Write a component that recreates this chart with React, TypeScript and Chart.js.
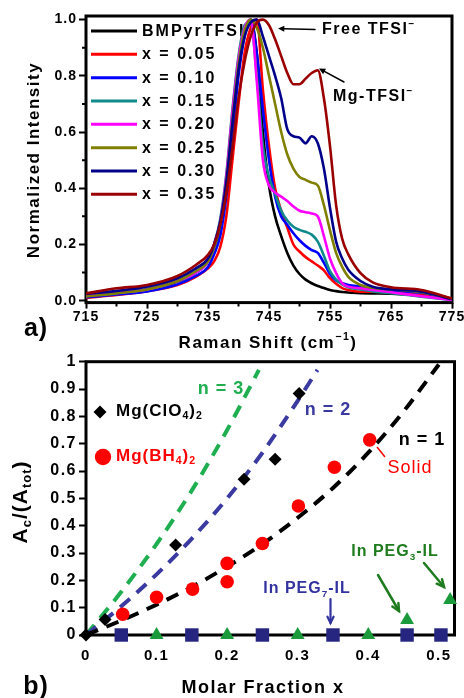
import React, { useEffect, useRef } from 'react';
import { Chart, registerables } from 'chart.js';

Chart.register(...registerables);

const W = 464;
const H = 698;
const FAMILY = "'Liberation Sans', Arial, sans-serif";

// ---------- (a) Raman spectra ----------
const ramanShift = [715, 720, 725, 730, 733, 735, 736, 737, 738, 739, 740, 741, 742, 743, 744, 745, 746, 747, 748, 749, 750, 751, 752, 753, 754, 755, 756, 757, 758, 760, 762, 765, 770, 775];
const intBMPyr = [0.02, 0.028, 0.04, 0.068, 0.1, 0.14, 0.19, 0.26, 0.4, 0.62, 0.82, 0.95, 1.0, 0.88, 0.6, 0.41, 0.3, 0.23, 0.17, 0.125, 0.095, 0.075, 0.062, 0.052, 0.045, 0.038, 0.034, 0.031, 0.029, 0.027, 0.026, 0.025, 0.018, 0.006];
const intX005 = [0.01, 0.02, 0.034, 0.056, 0.085, 0.115, 0.14, 0.19, 0.3, 0.5, 0.7, 0.88, 0.97, 1.0, 0.75, 0.55, 0.4, 0.32, 0.26, 0.2, 0.175, 0.155, 0.14, 0.125, 0.108, 0.08, 0.06, 0.045, 0.038, 0.032, 0.032, 0.03, 0.02, 0.005];
const intX010 = [0.012, 0.022, 0.033, 0.058, 0.088, 0.12, 0.165, 0.23, 0.37, 0.58, 0.8, 0.94, 1.0, 0.88, 0.68, 0.5, 0.37, 0.3, 0.27, 0.24, 0.215, 0.195, 0.18, 0.17, 0.135, 0.095, 0.072, 0.062, 0.056, 0.05, 0.044, 0.036, 0.028, 0.005];
const intX015 = [0.018, 0.028, 0.04, 0.07, 0.1, 0.14, 0.2, 0.29, 0.45, 0.68, 0.87, 0.98, 0.99, 0.8, 0.55, 0.44, 0.38, 0.32, 0.285, 0.263, 0.252, 0.245, 0.235, 0.21, 0.16, 0.105, 0.075, 0.058, 0.048, 0.04, 0.033, 0.027, 0.014, 0.003];
const intX020 = [0.018, 0.028, 0.04, 0.07, 0.1, 0.14, 0.2, 0.28, 0.44, 0.67, 0.86, 0.97, 1.0, 0.78, 0.5, 0.41, 0.385, 0.37, 0.355, 0.335, 0.32, 0.315, 0.31, 0.3, 0.23, 0.15, 0.098, 0.062, 0.05, 0.044, 0.038, 0.03, 0.016, 0.003];
const intX025 = [0.015, 0.026, 0.04, 0.07, 0.105, 0.14, 0.19, 0.27, 0.42, 0.64, 0.84, 0.96, 1.0, 0.97, 0.9, 0.8, 0.7, 0.6, 0.52, 0.47, 0.44, 0.43, 0.42, 0.41, 0.34, 0.25, 0.17, 0.12, 0.085, 0.056, 0.046, 0.04, 0.03, 0.006];
const intX030 = [0.024, 0.035, 0.05, 0.08, 0.115, 0.15, 0.2, 0.28, 0.42, 0.63, 0.82, 0.94, 0.99, 1.0, 0.94, 0.87, 0.8, 0.72, 0.61, 0.585, 0.58, 0.56, 0.585, 0.56, 0.47, 0.33, 0.21, 0.15, 0.11, 0.07, 0.05, 0.04, 0.032, 0.005];
const intX035 = [0.026, 0.044, 0.056, 0.088, 0.127, 0.163, 0.2, 0.27, 0.38, 0.54, 0.72, 0.85, 0.94, 0.99, 1.0, 0.98, 0.93, 0.87, 0.81, 0.77, 0.77, 0.79, 0.81, 0.82, 0.72, 0.55, 0.34, 0.22, 0.165, 0.098, 0.065, 0.048, 0.038, 0.008];
const seriesNames = ['BMPyrTFSI', 'x = 0.05', 'x = 0.10', 'x = 0.15', 'x = 0.20', 'x = 0.25', 'x = 0.30', 'x = 0.35'];
const seriesColors = ['#000000', '#ff0000', '#0000ff', '#108a8a', '#ff00ff', '#808000', '#00008a', '#9a0000'];
const ramanTicks = [715, 725, 735, 745, 755, 765, 775];
const ramanMinorTicks = [720, 730, 740, 750, 760, 770];
const intensityTicks = [0, 0.2, 0.4, 0.6, 0.8, 1.0];
const intensityMinorTicks = [0.1, 0.3, 0.5, 0.7, 0.9];

// ---------- (b) area ratio vs molar fraction ----------
const clo4X = [0, 0.027, 0.127, 0.224, 0.268, 0.302];
const clo4Y = [0, 0.057, 0.329, 0.57, 0.643, 0.884];
const bh4X = [0.052, 0.1, 0.151, 0.2, 0.2, 0.25, 0.301, 0.352, 0.402];
const bh4Y = [0.076, 0.138, 0.168, 0.262, 0.195, 0.335, 0.472, 0.614, 0.714];
const peg7X = [0.05, 0.15, 0.25, 0.35, 0.455, 0.503];
const peg7Y = [0, 0, 0, 0, 0, 0];
const peg3X = [0.1, 0.2, 0.3, 0.4, 0.455, 0.516];
const peg3Y = [0, 0, 0, 0, 0.055, 0.128];
const n1X = [0, 0.05, 0.1, 0.15, 0.2, 0.25, 0.3, 0.35, 0.4, 0.45, 0.5];
const n1Y = [0, 0.053, 0.111, 0.176, 0.25, 0.333, 0.429, 0.538, 0.667, 0.818, 0.99];
const n2X = [0, 0.05, 0.1, 0.15, 0.2, 0.25, 0.3, 0.328];
const n2Y = [0, 0.105, 0.222, 0.353, 0.5, 0.667, 0.857, 0.97];
const n3X = [0, 0.05, 0.1, 0.15, 0.2, 0.245];
const n3Y = [0, 0.158, 0.333, 0.529, 0.75, 0.97];
const fracTicks = [0, 0.1, 0.2, 0.3, 0.4, 0.5];
const fracLabels = ['0', '0.1', '0.2', '0.3', '0.4', '0.5'];
const ratioTicks = [0, 0.1, 0.2, 0.3, 0.4, 0.5, 0.6, 0.7, 0.8, 0.9, 1];
const ratioLabels = ['0', '0.1', '0.2', '0.3', '0.4', '0.5', '0.6', '0.7', '0.8', '0.9', '1'];

type Part = { t: string; sub?: boolean; sup?: boolean };
type TextOpts = { size: number; weight?: string; color: string; align?: 'left' | 'center' | 'right'; ls?: number };

function drawRich(ctx: CanvasRenderingContext2D, parts: Part[], x: number, y: number, o: TextOpts) {
  ctx.save();
  const weight = o.weight ?? 'bold';
  (ctx as any).letterSpacing = (o.ls ?? 0) + 'px';
  ctx.fillStyle = o.color;
  ctx.textBaseline = 'middle';
  ctx.textAlign = 'left';
  let total = 0;
  const items = parts.map((p) => {
    const s = p.sub || p.sup ? o.size * 0.62 : o.size;
    ctx.font = `${weight} ${s}px ${FAMILY}`;
    const w = ctx.measureText(p.t).width;
    total += w;
    return { p, s, w };
  });
  let cx = o.align === 'center' ? x - total / 2 : o.align === 'right' ? x - total : x;
  for (const it of items) {
    ctx.font = `${weight} ${it.s}px ${FAMILY}`;
    const dy = it.p.sub ? o.size * 0.32 : it.p.sup ? -o.size * 0.36 : 0;
    ctx.fillText(it.p.t, cx, y + dy);
    cx += it.w;
  }
  ctx.restore();
}

function drawRotated(ctx: CanvasRenderingContext2D, parts: Part[], x: number, y: number, o: TextOpts) {
  ctx.save();
  ctx.translate(x, y);
  ctx.rotate(-Math.PI / 2);
  drawRich(ctx, parts, 0, 0, { ...o, align: 'center' });
  ctx.restore();
}

function arrow(ctx: CanvasRenderingContext2D, x1: number, y1: number, x2: number, y2: number, color: string, lw: number, head: number, filled: boolean) {
  ctx.save();
  ctx.strokeStyle = color;
  ctx.fillStyle = color;
  ctx.lineWidth = lw;
  ctx.lineCap = 'round';
  const a = Math.atan2(y2 - y1, x2 - x1);
  ctx.beginPath();
  ctx.moveTo(x1, y1);
  ctx.lineTo(filled ? x2 - Math.cos(a) * head * 0.8 : x2, filled ? y2 - Math.sin(a) * head * 0.8 : y2);
  ctx.stroke();
  const ax = x2 - Math.cos(a - 0.45) * head;
  const ay = y2 - Math.sin(a - 0.45) * head;
  const bx = x2 - Math.cos(a + 0.45) * head;
  const by = y2 - Math.sin(a + 0.45) * head;
  ctx.beginPath();
  if (filled) {
    ctx.moveTo(x2, y2);
    ctx.lineTo(ax, ay);
    ctx.lineTo(bx, by);
    ctx.closePath();
    ctx.fill();
  } else {
    ctx.moveTo(ax, ay);
    ctx.lineTo(x2, y2);
    ctx.lineTo(bx, by);
    ctx.stroke();
  }
  ctx.restore();
}

const framePlugin = {
  id: 'frame',
  beforeDraw(chart: any) {
    (chart.ctx as any).letterSpacing = chart.config.options.tickLetterSpacing ?? '1px';
  },
  beforeDatasetsDraw(chart: any) {
    const { ctx, chartArea: c } = chart;
    ctx.save();
    ctx.strokeStyle = '#000';
    ctx.lineWidth = 3;
    ctx.strokeRect(c.left, c.top, c.right - c.left, c.bottom - c.top);
    // minor ticks (shorter), positioned through the scales
    const minor = chart.config.options.minorTicks;
    if (minor) {
      ctx.lineWidth = 2;
      ctx.beginPath();
      for (const v of minor.x) {
        const px = chart.scales.x.getPixelForValue(v);
        ctx.moveTo(px, c.bottom);
        ctx.lineTo(px, c.bottom + 4);
      }
      for (const v of minor.y) {
        const py = chart.scales.y.getPixelForValue(v);
        ctx.moveTo(c.left, py);
        ctx.lineTo(c.left - 4, py);
      }
      ctx.stroke();
    }
    ctx.restore();
  },
};

const legendAPlugin = {
  id: 'legendA',
  beforeDatasetsDraw(chart: any) {
    const ctx: CanvasRenderingContext2D = chart.ctx;
    seriesNames.forEach((name, i) => {
      const y = 31 + 23.33 * i;
      ctx.save();
      ctx.strokeStyle = seriesColors[i];
      ctx.lineWidth = 3;
      ctx.beginPath();
      ctx.moveTo(91, y);
      ctx.lineTo(137, y);
      ctx.stroke();
      ctx.restore();
      drawRich(ctx, [{ t: name }], 142, y + 0.5, { size: 16, color: '#000', ls: 2 });
    });
  },
};

const annotAPlugin = {
  id: 'annotA',
  afterDraw(chart: any) {
    const ctx: CanvasRenderingContext2D = chart.ctx;
    drawRich(ctx, [{ t: 'Free TFSI' }, { t: '−', sup: true }], 322, 30, { size: 16, color: '#000', ls: 1.5 });
    arrow(ctx, 315, 29.5, 278, 28.5, '#000', 1.5, 7, true);
    drawRich(ctx, [{ t: 'Mg-TFSI' }, { t: '−', sup: true }], 333, 97, { size: 16, color: '#000', ls: 1.5 });
    arrow(ctx, 344, 82, 319, 68.5, '#000', 1.5, 7, true);
    drawRotated(ctx, [{ t: 'Normalized Intensity' }], 34, 160, { size: 17, color: '#000', ls: 1.5 });
    drawRich(ctx, [{ t: 'Raman Shift (cm' }, { t: '−1', sup: true }, { t: ')' }], 268, 343, { size: 17, color: '#000', align: 'center', ls: 1.5 });
    drawRich(ctx, [{ t: 'a)' }], 36, 329, { size: 25, color: '#000', align: 'center', ls: 1 });
  },
};

const legendBPlugin = {
  id: 'legendB',
  afterDraw(chart: any) {
    const ctx: CanvasRenderingContext2D = chart.ctx;
    ctx.save();
    ctx.fillStyle = '#000';
    ctx.beginPath();
    ctx.moveTo(100 - 6.5, 412);
    ctx.lineTo(100, 412 - 6.5);
    ctx.lineTo(100 + 6.5, 412);
    ctx.lineTo(100, 412 + 6.5);
    ctx.closePath();
    ctx.fill();
    ctx.fillStyle = '#ff0000';
    ctx.beginPath();
    ctx.arc(103, 457, 8.2, 0, Math.PI * 2);
    ctx.fill();
    ctx.restore();
    drawRich(ctx, [{ t: 'Mg(ClO' }, { t: '4', sub: true }, { t: ')' }, { t: '2', sub: true }], 116, 411, { size: 17, color: '#000', ls: 1 });
    drawRich(ctx, [{ t: 'Mg(BH' }, { t: '4', sub: true }, { t: ')' }, { t: '2', sub: true }], 116, 456, { size: 17, color: '#ff0000', ls: 1 });
    drawRich(ctx, [{ t: 'n = 3' }], 221, 389, { size: 18, color: '#1fae50', align: 'center', ls: 1 });
    drawRich(ctx, [{ t: 'n = 2' }], 328, 410, { size: 18, color: '#3a3aa0', align: 'center', ls: 1 });
    drawRich(ctx, [{ t: 'n = 1' }], 422, 440, { size: 18, color: '#000', align: 'center', ls: 1 });
    drawRich(ctx, [{ t: 'Solid' }], 410, 468, { size: 18, weight: 'normal', color: '#ff0000', align: 'center', ls: 1 });
    ctx.save();
    ctx.strokeStyle = '#ff0000';
    ctx.lineWidth = 1.5;
    ctx.beginPath();
    ctx.moveTo(377, 447);
    ctx.lineTo(385, 457);
    ctx.stroke();
    ctx.restore();
    drawRich(ctx, [{ t: 'In PEG' }, { t: '7', sub: true }, { t: '-IL' }], 307, 589, { size: 16, color: '#3333a0', align: 'center', ls: 1 });
    arrow(ctx, 330.5, 599, 330.5, 623, '#3333a0', 2.2, 7, false);
    drawRich(ctx, [{ t: 'In PEG' }, { t: '3', sub: true }, { t: '-IL' }], 395, 552, { size: 16, color: '#1e7b1e', align: 'center', ls: 1 });
    arrow(ctx, 378, 575, 399, 611, '#1e7b1e', 2.5, 8, false);
    arrow(ctx, 424, 563, 444, 587, '#1e7b1e', 2.5, 8, false);
    drawRotated(ctx, [{ t: 'A' }, { t: 'c', sub: true }, { t: '/(A' }, { t: 'tot', sub: true }, { t: ')' }], 21, 502, { size: 21, color: '#000', ls: 1 });
    drawRich(ctx, [{ t: 'Molar Fraction x' }], 263, 688, { size: 18, color: '#000', align: 'center', ls: 1.5 });
    drawRich(ctx, [{ t: 'b)' }], 36, 687, { size: 25, color: '#000', align: 'center', ls: 1 });
  },
};

const pts = (xs: number[], ys: number[]) => xs.map((x, i) => ({ x, y: ys[i] }));

export default function App() {
  const refA = useRef<HTMLCanvasElement>(null);
  const refB = useRef<HTMLCanvasElement>(null);

  useEffect(() => {
    const seriesY = [intBMPyr, intX005, intX010, intX015, intX020, intX025, intX030, intX035];
    const tickFont = (size: number) => ({ family: FAMILY, size, weight: 'bold' as const });

    const chartA = new Chart(refA.current!, {
      type: 'line',
      data: {
        datasets: seriesY.map((ys, i) => ({
          label: seriesNames[i],
          data: pts(ramanShift, ys),
          borderColor: seriesColors[i],
          backgroundColor: seriesColors[i],
          borderWidth: 2.6,
          pointRadius: 0,
          cubicInterpolationMode: 'monotone' as const,
          borderJoinStyle: 'round' as const,
          fill: false,
          order: 7 - i,
        })),
      },
      options: {
        responsive: false,
        animation: false,
        devicePixelRatio: 1,
        events: [],
        tickLetterSpacing: '1px',
        minorTicks: { x: ramanMinorTicks, y: intensityMinorTicks },
        layout: { padding: { left: 0, top: 16, right: 12, bottom: H - 302.6 - 40 } },
        plugins: { legend: { display: false }, tooltip: { enabled: false } },
        scales: {
          x: {
            type: 'linear',
            min: 715,
            max: 775,
            afterBuildTicks: (s: any) => { s.ticks = ramanTicks.map((v) => ({ value: v })); },
            afterFit: (s: any) => { s.height = 40; },
            ticks: {
              autoSkip: false,
              maxRotation: 0,
              padding: 0,
              color: '#000',
              font: tickFont(14),
              callback: (v: any) => String(v),
            },
            grid: { drawOnChartArea: false, drawTicks: true, tickLength: 6, tickWidth: 2, tickColor: '#000' },
            border: { display: false },
          },
          y: {
            type: 'linear',
            min: -0.0068,
            max: 1.0128,
            afterBuildTicks: (s: any) => { s.ticks = intensityTicks.map((v) => ({ value: v })); },
            afterFit: (s: any) => { s.width = 86; },
            ticks: {
              autoSkip: false,
              padding: 2,
              color: '#000',
              font: tickFont(14),
              callback: (v: any) => Number(v).toFixed(1),
            },
            grid: { drawOnChartArea: false, drawTicks: true, tickLength: 7, tickWidth: 2, tickColor: '#000' },
            border: { display: false },
          },
        },
      } as any,
      plugins: [framePlugin, legendAPlugin, annotAPlugin],
    });

    const chartB = new Chart(refB.current!, {
      type: 'scatter',
      data: {
        datasets: [
          { label: 'Mg(ClO4)2', data: pts(clo4X, clo4Y), pointStyle: 'rectRot', pointRadius: 6.5, backgroundColor: '#000', borderColor: '#000', borderWidth: 0, clip: false, order: 0 },
          { label: 'Mg(BH4)2', data: pts(bh4X, bh4Y), pointStyle: 'circle', pointRadius: 6.8, backgroundColor: '#ff0000', borderColor: '#ff0000', borderWidth: 0, clip: false, order: 1 },
          { label: 'In PEG7-IL', data: pts(peg7X, peg7Y), pointStyle: 'rect', pointRadius: 9.5, backgroundColor: '#262680', borderColor: '#262680', borderWidth: 0, clip: false, order: 0 },
          { label: 'In PEG3-IL', data: pts(peg3X, peg3Y), pointStyle: 'triangle', pointRadius: 8, backgroundColor: '#1a9a3a', borderColor: '#1a9a3a', borderWidth: 0, clip: false, order: 0 },
          { label: 'n = 1', data: pts(n1X, n1Y), showLine: true, pointRadius: 0, borderColor: '#000', borderWidth: 4, borderDash: [13, 9], cubicInterpolationMode: 'monotone', order: 5 },
          { label: 'n = 2', data: pts(n2X, n2Y), showLine: true, pointRadius: 0, borderColor: '#3a3aa0', borderWidth: 4, borderDash: [13, 9], cubicInterpolationMode: 'monotone', order: 5 },
          { label: 'n = 3', data: pts(n3X, n3Y), showLine: true, pointRadius: 0, borderColor: '#1fae50', borderWidth: 4, borderDash: [13, 9], cubicInterpolationMode: 'monotone', order: 5 },
        ] as any,
      },
      options: {
        responsive: false,
        animation: false,
        devicePixelRatio: 1,
        events: [],
        tickLetterSpacing: '1.5px',
        layout: { padding: { left: 0, top: 361.7, right: 8, bottom: H - 635 - 40 } },
        plugins: { legend: { display: false }, tooltip: { enabled: false } },
        scales: {
          x: {
            type: 'linear',
            min: 0,
            max: 0.5222,
            afterBuildTicks: (s: any) => { s.ticks = fracTicks.map((v) => ({ value: v })); },
            afterFit: (s: any) => { s.height = 40; },
            ticks: {
              autoSkip: false,
              maxRotation: 0,
              padding: 12,
              color: '#000',
              font: tickFont(15),
              callback: (_v: any, i: number) => fracLabels[i],
            },
            grid: { drawOnChartArea: false, drawTicks: false },
            border: { display: false },
          },
          y: {
            type: 'linear',
            min: 0,
            max: 1,
            afterBuildTicks: (s: any) => { s.ticks = ratioTicks.map((v) => ({ value: v })); },
            afterFit: (s: any) => { s.width = 86; },
            ticks: {
              autoSkip: false,
              padding: 2,
              color: '#000',
              font: tickFont(16),
              callback: (_v: any, i: number) => ratioLabels[i],
            },
            grid: { drawOnChartArea: false, drawTicks: true, tickLength: 7, tickWidth: 2, tickColor: '#000' },
            border: { display: false },
          },
        },
      } as any,
      plugins: [framePlugin, legendBPlugin],
    });

    return () => {
      chartA.destroy();
      chartB.destroy();
    };
  }, []);

  return (
    <div style={{ position: 'fixed', left: 0, top: 0, width: W, height: H, background: '#fff' }}>
      <canvas ref={refA} width={W} height={H} style={{ position: 'absolute', left: 0, top: 0 }} />
      <canvas ref={refB} width={W} height={H} style={{ position: 'absolute', left: 0, top: 0 }} />
    </div>
  );
}
